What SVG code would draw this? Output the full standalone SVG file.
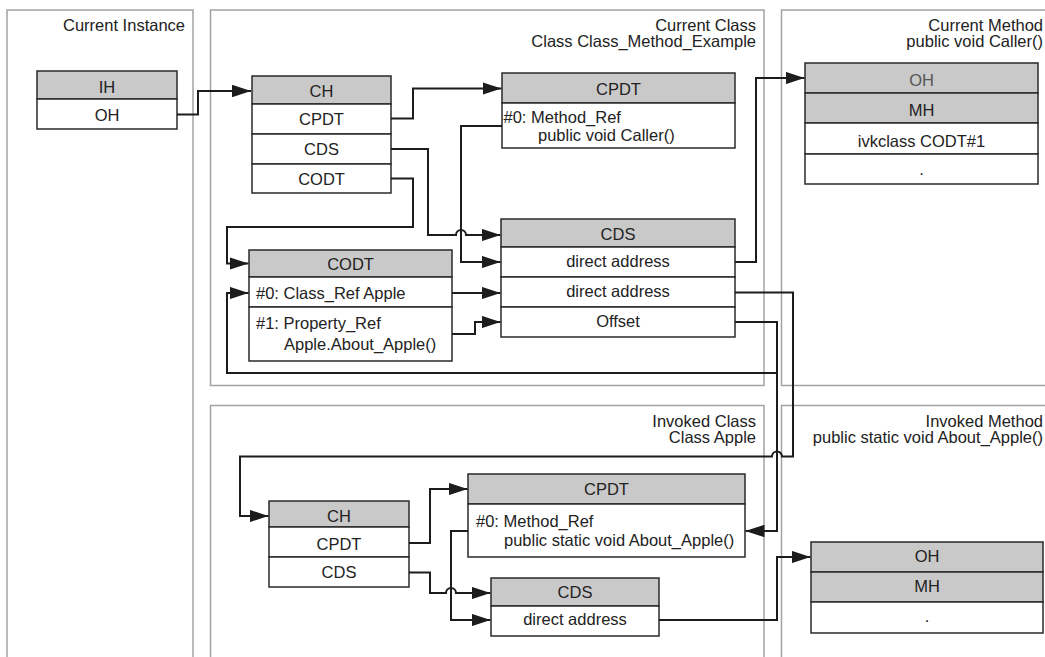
<svg xmlns="http://www.w3.org/2000/svg" width="1045" height="657" viewBox="0 0 1045 657">
<defs>
<style>
.panel{fill:none;stroke:#a3a3a3;stroke-width:1.5}
.box{fill:#fff;stroke:#2a2a2a;stroke-width:1.5}
.hdr{fill:#c9c9c9;stroke:#2a2a2a;stroke-width:1.5}
text{font-family:"Liberation Sans",Arial,sans-serif;font-size:16.5px;fill:#222}
.c{text-anchor:middle}
.r{text-anchor:end}
.dim{fill:#555}
.con{fill:none;stroke:#1c1c1c;stroke-width:2}
.arr{marker-end:url(#ah)}
</style>
<marker id="ah" viewBox="0 0 19 12.5" markerWidth="19" markerHeight="12.5" refX="19" refY="6.25" orient="auto" markerUnits="userSpaceOnUse">
<path d="M0,0 L19,6.25 L0,12.5 z" fill="#1c1c1c"/>
</marker>
</defs>
<rect width="1045" height="657" fill="#fff"/>

<g id="panels">
<rect class="panel" x="7" y="10" width="186" height="670"/>
<rect class="panel" x="210.5" y="10" width="553.5" height="375.5"/>
<rect class="panel" x="781.5" y="10" width="300" height="375.5"/>
<rect class="panel" x="210.5" y="405.5" width="553.5" height="300"/>
<rect class="panel" x="781.5" y="405.5" width="300" height="300"/>
<text class="r" x="185" y="31">Current Instance</text>
<text class="r" x="756" y="31">Current Class</text>
<text class="r" x="756" y="47">Class Class_Method_Example</text>
<text class="r" x="1043" y="31">Current Method</text>
<text class="r" x="1043" y="47">public void Caller()</text>
<text class="r" x="756" y="426.5">Invoked Class</text>
<text class="r" x="756" y="443">Class Apple</text>
<text class="r" x="1043" y="426.5">Invoked Method</text>
<text class="r" x="1043" y="443">public static void About_Apple()</text>
</g>

<g id="instance">
<rect class="hdr" x="37" y="71" width="140" height="28"/>
<rect class="box" x="37" y="99" width="140" height="30"/>
<text class="c" x="107" y="92.5">IH</text>
<text class="c" x="107" y="120.5">OH</text>
</g>

<g id="cur-ch">
<rect class="hdr" x="252" y="76" width="139" height="28"/>
<rect class="box" x="252" y="104" width="139" height="30"/>
<rect class="box" x="252" y="134" width="139" height="30"/>
<rect class="box" x="252" y="164" width="139" height="29"/>
<text class="c" x="321.5" y="97">CH</text>
<text class="c" x="321.5" y="124.5">CPDT</text>
<text class="c" x="321.5" y="155">CDS</text>
<text class="c" x="321.5" y="184.5">CODT</text>
</g>

<g id="cur-cpdt">
<rect class="hdr" x="502" y="73" width="233" height="30"/>
<rect class="box" x="502" y="103" width="233" height="45"/>
<text class="c" x="618.5" y="95">CPDT</text>
<text x="503.5" y="122.5">#0: Method_Ref</text>
<text x="538" y="141">public void Caller()</text>
</g>

<g id="cur-cds">
<rect class="hdr" x="501" y="219" width="234" height="28"/>
<rect class="box" x="501" y="247" width="234" height="30"/>
<rect class="box" x="501" y="277" width="234" height="30"/>
<rect class="box" x="501" y="307" width="234" height="30"/>
<text class="c" x="618" y="240">CDS</text>
<text class="c" x="618" y="267">direct address</text>
<text class="c" x="618" y="297">direct address</text>
<text class="c" x="618" y="327">Offset</text>
</g>

<g id="cur-codt">
<rect class="hdr" x="249" y="250" width="203" height="27"/>
<rect class="box" x="249" y="277" width="203" height="30"/>
<rect class="box" x="249" y="307" width="203" height="54"/>
<text class="c" x="350.5" y="270">CODT</text>
<text x="256" y="298.5">#0: Class_Ref Apple</text>
<text x="256" y="329">#1: Property_Ref</text>
<text x="284" y="349.5">Apple.About_Apple()</text>
</g>

<g id="cur-method">
<rect class="hdr" x="805" y="63" width="233" height="30"/>
<rect class="hdr" x="805" y="93" width="233" height="30"/>
<rect class="box" x="805" y="123" width="233" height="31"/>
<rect class="box" x="805" y="154" width="233" height="30"/>
<text class="c dim" x="921.5" y="86">OH</text>
<text class="c" x="921.5" y="116">MH</text>
<text class="c" x="921.5" y="146.5">ivkclass CODT#1</text>
<text class="c" x="921.5" y="175">.</text>
</g>

<g id="inv-ch">
<rect class="hdr" x="269" y="501" width="140" height="26"/>
<rect class="box" x="269" y="527" width="140" height="30"/>
<rect class="box" x="269" y="557" width="140" height="30"/>
<text class="c" x="339" y="521.5">CH</text>
<text class="c" x="339" y="549.5">CPDT</text>
<text class="c" x="339" y="577.5">CDS</text>
</g>

<g id="inv-cpdt">
<rect class="hdr" x="468" y="474" width="277" height="30"/>
<rect class="box" x="468" y="504" width="277" height="53"/>
<text class="c" x="606.5" y="495">CPDT</text>
<text x="476" y="526.5">#0: Method_Ref</text>
<text x="504" y="546">public static void About_Apple()</text>
</g>

<g id="inv-cds">
<rect class="hdr" x="491" y="578" width="168" height="28"/>
<rect class="box" x="491" y="606" width="168" height="30"/>
<text class="c" x="575" y="597.5">CDS</text>
<text class="c" x="575" y="625">direct address</text>
</g>

<g id="inv-method">
<rect class="hdr" x="811" y="542" width="232" height="30"/>
<rect class="hdr" x="811" y="572" width="232" height="30"/>
<rect class="box" x="811" y="602" width="232" height="31"/>
<text class="c" x="927" y="562">OH</text>
<text class="c" x="927" y="592">MH</text>
<text class="c" x="927" y="622">.</text>
</g>

<g id="connectors">
<path class="con arr" d="M177,114.5 H198 V91 H251"/>
<path class="con arr" d="M391,118.5 H413 V88.5 H501.5"/>
<path class="con arr" d="M391,149 H428 V235 H456 A5,5 0 0 1 466,235 H500.5"/>
<path class="con arr" d="M391,178.5 H413 V227 H227 V263.5 H248.5"/>
<path class="con arr" d="M502,126 H461 V262 H500.5"/>
<path class="con arr" d="M452,293 H500.5"/>
<path class="con arr" d="M452,334 H475 V322 H500.5"/>
<path class="con arr" d="M735,262 H756 V78 H804.5"/>
<path class="con arr" d="M735,292.5 H793 V456.5 H782 A5,5 0 0 0 772,456.5 H240 V516 H268.5"/>
<path class="con arr" d="M735,322 H777 V531 H745.5"/>
<path class="con arr" d="M777,373 H227 V293 H248.5"/>
<path class="con arr" d="M409,543 H430 V489 H467.5"/>
<path class="con arr" d="M409,572.5 H430 V593 H446 A5,5 0 0 1 456,593 H490.5"/>
<path class="con arr" d="M468,531 H451 V620 H490.5"/>
<path class="con arr" d="M659,620 H777 V557 H810.5"/>
</g>
</svg>
